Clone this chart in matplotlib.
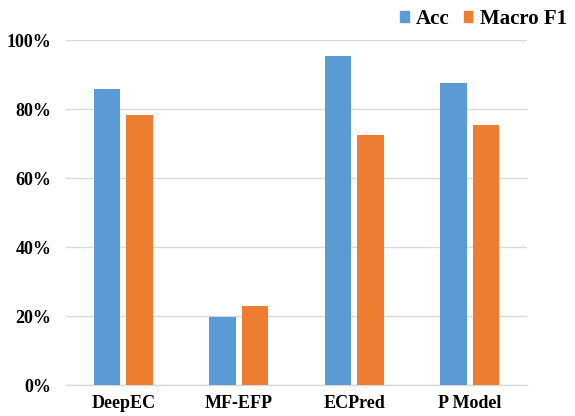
import numpy as np
import matplotlib
matplotlib.use("Agg")
import matplotlib.pyplot as plt
from matplotlib.patches import Patch
from matplotlib.ticker import FuncFormatter

models = ["DeepEC", "MF-EFP", "ECPred", "P Model"]
acc = [86.0, 19.8, 95.6, 87.7]
macro_f1 = [78.4, 22.9, 72.5, 75.5]

plt.rcParams['font.family'] = ['Liberation Serif', 'DejaVu Serif']
plt.rcParams['font.weight'] = 'bold'

blue = "#5B9BD5"
orange = "#ED7D31"
grid = "#D9D9D9"

fig = plt.figure(figsize=(5.75, 4.16), dpi=100)
ax = fig.add_axes([0.114, 0.074, 0.803, 0.829])

x = np.arange(len(models))
w = 0.23
ax.bar(x - 0.141, acc, w, color=blue, zorder=3)
ax.bar(x + 0.141, macro_f1, w, color=orange, zorder=3)

ax.set_xlim(-0.5, len(models) - 0.5)
ax.set_ylim(0, 100)
ax.set_yticks(np.arange(0, 101, 20))
ax.yaxis.set_major_formatter(FuncFormatter(lambda v, p: f"{int(v)}%"))
ax.set_xticks(x)
ax.set_xticklabels(models)

ax.grid(axis='y', color=grid, linewidth=1, zorder=0)
for s in ['top', 'right', 'left']:
    ax.spines[s].set_visible(False)
ax.spines['bottom'].set_color(grid)
ax.spines['bottom'].set_linewidth(1)
ax.tick_params(length=0, labelsize=13, pad=7)
ax.tick_params(axis='y', pad=10)

handles = [Patch(color=blue, label="Acc"), Patch(color=orange, label="Macro F1")]
fig.legend(handles=handles, loc='center right', bbox_to_anchor=(1.0, 0.955), ncol=2,
           frameon=False, fontsize=15, handlelength=0.4, handleheight=0.4,
           handletextpad=0.35, columnspacing=0.7, borderaxespad=0)

fig.savefig("out.png", dpi=100)
